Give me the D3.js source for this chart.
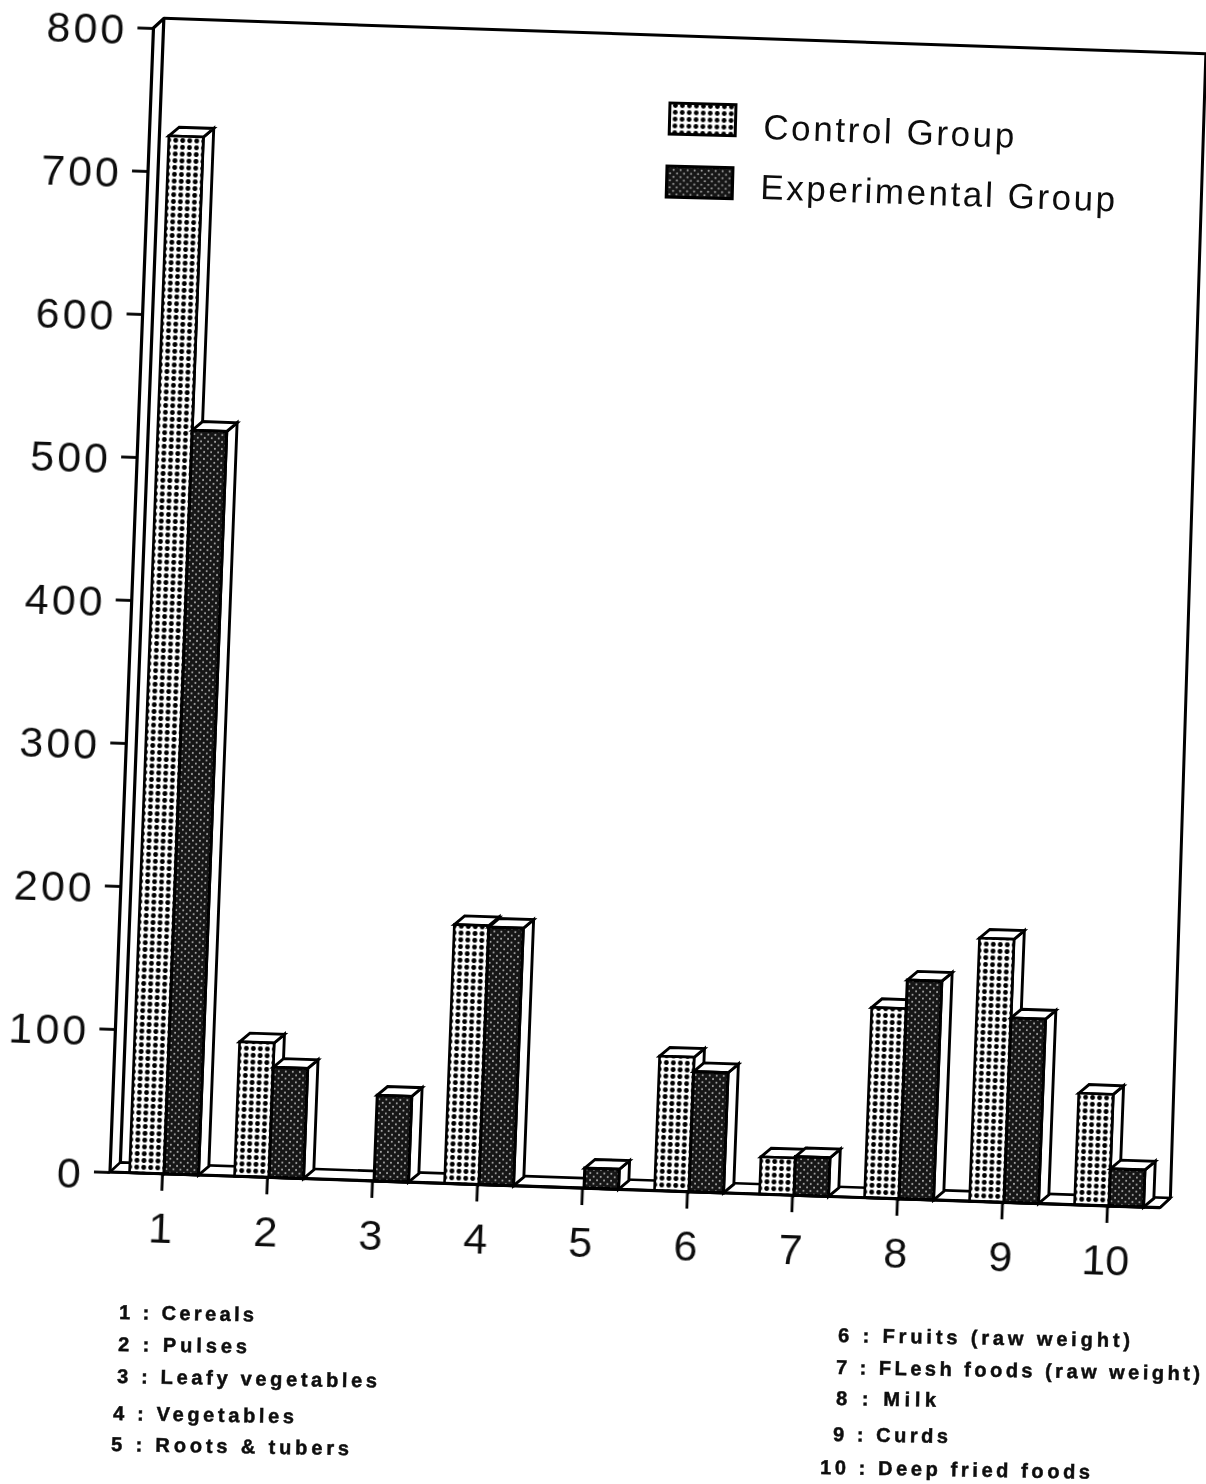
<!DOCTYPE html>
<html><head><meta charset="utf-8">
<script src="https://cdn.jsdelivr.net/npm/d3@7/dist/d3.min.js"></script>
<style>html,body{margin:0;background:#fff;overflow:hidden}svg{display:block}text{font-family:"Liberation Sans",Arial,sans-serif;fill:#111}</style>
</head><body><svg id="c" width="1206" height="1484"></svg>
<script>
const categories = ["1","2","3","4","5","6","7","8","9","10"];
const controlValues = [725, 94, 0, 181, 0, 94, 26, 133, 184, 78];
const experimentalValues = [520, 77, 60, 180, 14, 84, 27, 153, 129, 26];
const yTicks = [0,100,200,300,400,500,600,700,800];
const seriesNames = ["Control Group","Experimental Group"];
const notesLeft = ["1 : Cereals","2 : Pulses","3 : Leafy vegetables","4 : Vegetables","5 : Roots & tubers"];
const notesRight = ["6 : Fruits (raw weight)","7 : FLesh foods (raw weight)","8 : Milk","9 : Curds","10 : Deep fried foods"];

const svg = d3.select("#c"), defs = svg.append("defs");
const blur = defs.append("filter").attr("id","soft").attr("x","-2%").attr("y","-2%").attr("width","104%").attr("height","104%");
blur.append("feGaussianBlur").attr("stdDeviation",0.6);
const p1 = defs.append("pattern").attr("id","pCtrl").attr("patternUnits","userSpaceOnUse").attr("width",7).attr("height",6.8);
p1.append("rect").attr("width",7).attr("height",6.8).attr("fill","#fff");
p1.append("circle").attr("cx",3.5).attr("cy",3.4).attr("r",2.4).attr("fill","#000");
const p2 = defs.append("pattern").attr("id","pExp").attr("patternUnits","userSpaceOnUse").attr("width",7).attr("height",7);
p2.append("rect").attr("width",7).attr("height",7).attr("fill","#161616");
[[1.75,1.75],[5.25,5.25]].forEach(c=>p2.append("circle").attr("cx",c[0]).attr("cy",c[1]).attr("r",1).attr("fill","#a8a8a8"));
const fills = ["url(#pCtrl)","url(#pExp)"];

const slopeB = 0.034, leanC = -0.038, x0 = 110, y0 = 1172, dx = 10, dy = 10, barDx = 10, barDy = 9, wallInset = 8;
const root = svg.append("g").attr("filter","url(#soft)");
const g = root.append("g").attr("transform",`matrix(1 ${slopeB} ${leanC} 1 ${-leanC*y0} ${-slopeB*x0})`);

const x = d3.scaleBand().domain(categories).range([x0, x0+1050]);
const xs = d3.scaleBand().domain(seriesNames).range([x.bandwidth()/2-33, x.bandwidth()/2+36]);
const y = d3.scaleLinear().domain([0,800]).range([y0, y0-1144]);
const L = x.range()[0], R = x.range()[1], T = y(800);
const line = (pts,w=2.6)=>g.append("path").attr("d",d3.line()(pts)).attr("fill","none").attr("stroke","#000").attr("stroke-width",w).attr("stroke-linejoin","round");

// walls and floor
g.append("path").attr("d",d3.line()([[L,y0],[L+dx,y0-dy],[R+dx,y0-dy],[R,y0]])+"Z").attr("fill","#fff").attr("stroke","#000").attr("stroke-width",2.6);
line([[L,y0],[L,T],[L+dx,T-dy],[L+dx,y0-dy]],3.2);
line([[L+dx,T-dy],[R+dx-wallInset,T-dy],[R+dx,y0-dy]],3);

// bars
const rows = categories.map((c,i)=>({c, vals:[controlValues[i],experimentalValues[i]]}));
seriesNames.forEach((s,si)=>{
  const w = xs.bandwidth();
  const bars = g.append("g").selectAll("g").data(rows.filter(r=>r.vals[si]>0)).join("g");
  const bx = d=>x(d.c)+xs(s), by = d=>y(d.vals[si]);
  bars.append("path").attr("d",d=>d3.line()([[bx(d)+w,by(d)],[bx(d)+w+barDx,by(d)-barDy],[bx(d)+w+barDx,y0-barDy],[bx(d)+w,y0]])+"Z").attr("fill","#fff").attr("stroke","#000").attr("stroke-width",2.9);
  bars.append("path").attr("d",d=>d3.line()([[bx(d),by(d)],[bx(d)+barDx,by(d)-barDy],[bx(d)+w+barDx,by(d)-barDy],[bx(d)+w,by(d)]])+"Z").attr("fill","#fff").attr("stroke","#000").attr("stroke-width",2.9);
  bars.append("rect").attr("x",bx).attr("y",by).attr("width",w).attr("height",d=>y0-by(d)).attr("fill",fills[si]).attr("stroke","#000").attr("stroke-width",si?3:2.6);
});
line([[L,y0],[R,y0]],3.2);
line([[R,y0],[R+dx,y0-dy]],2.6);

// axes
const yAxis = g.append("g").attr("transform",`translate(${L},0)`).call(d3.axisLeft(y).tickValues(yTicks).tickSize(16).tickPadding(12));
const xAxis = g.append("g").attr("transform",`translate(0,${y0})`).call(d3.axisBottom(x).tickSize(17).tickPadding(21));
[yAxis,xAxis].forEach(a=>{a.select(".domain").remove();a.selectAll("line").attr("stroke","#000").attr("stroke-width",2.8);
  a.selectAll("text").attr("font-size",43).attr("fill","#111").style("font-family",'"Liberation Sans",Arial,sans-serif');});
yAxis.selectAll("text").attr("letter-spacing",3).attr("dx",2).attr("dy","0.39em");

// legend (page coordinates, tilted with the page)
const textAt = (t,px,py,size,width,weight,rot,sw)=>root.append("text").attr("x",px).attr("y",py).attr("font-size",size).attr("font-weight",weight)
  .attr("textLength",width).attr("lengthAdjust","spacing").attr("stroke","#111").attr("stroke-width",sw).attr("transform",`rotate(${rot} ${px} ${py})`).text(t);
[[670,103,66,31],[667,166,66,31]].forEach((b,i)=>{
  root.append("rect").attr("x",b[0]).attr("y",b[1]).attr("width",b[2]).attr("height",b[3]).attr("fill",fills[i]).attr("stroke","#000").attr("stroke-width",3).attr("transform",`rotate(1.5 ${b[0]} ${b[1]})`);
});
textAt(seriesNames[0],763,139,35,251,"normal",2,0);
textAt(seriesNames[1],760,199,35,355,"normal",2,0);

// notes
const leftPos = [[119,1319,135],[118,1351,129],[117,1383,260],[113,1420,181],[111,1451,238]];
const rightPos = [[838,1342,292],[836,1374,364],[836,1405,100],[833,1441,115],[820,1474,270]];
notesLeft.forEach((t,i)=>textAt(t,leftPos[i][0],leftPos[i][1],20,leftPos[i][2],"bold",1,0.5));
notesRight.forEach((t,i)=>textAt(t,rightPos[i][0],rightPos[i][1],20,rightPos[i][2],"bold",1,0.5));
</script></body></html>
